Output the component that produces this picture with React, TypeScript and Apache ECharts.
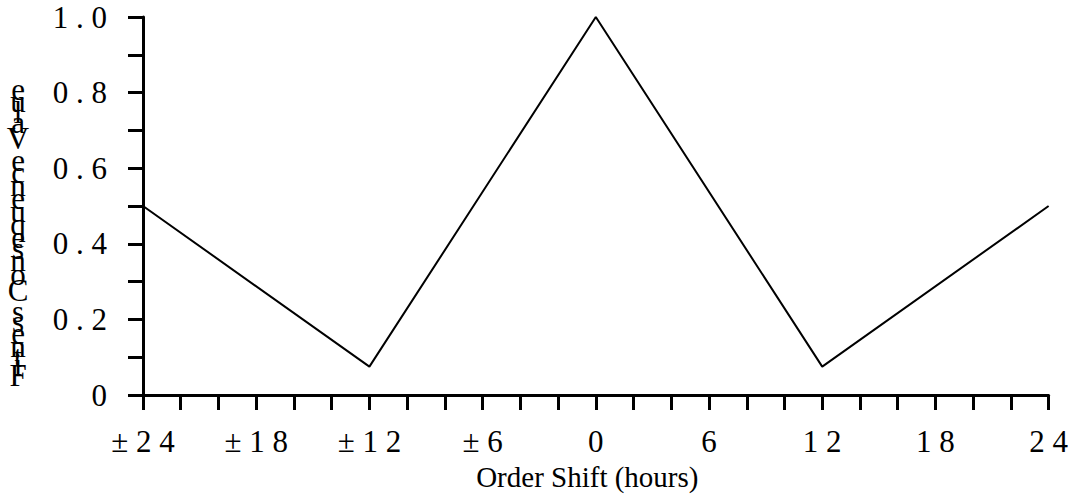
import React, { useEffect, useRef } from "react";
import * as echarts from "echarts";

const shiftHours = [-24, -12, 0, 12, 24];
const consequence = [0.5, 0.075, 1.0, 0.075, 0.5];
const xTitle = "Order Shift (hours)";
const yTitle = "Fitness Consequence Value";

const FONT = "'Liberation Serif', 'Times New Roman', serif";

function spaced(s: string): string {
  return s.split("").join(" ");
}

export default function App() {
  const ref = useRef<HTMLDivElement>(null);
  useEffect(() => {
    if (!ref.current) return;
    const chart = echarts.init(ref.current, undefined, { renderer: "svg" });

    // stacked upright y title, characters advancing upward by their widths
    const ySize = 31;
    const canvas = document.createElement("canvas");
    const ctx = canvas.getContext("2d")!;
    ctx.font = `${ySize}px 'Liberation Serif'`;
    const chars = yTitle.split("");
    const widths = chars.map((c) => ctx.measureText(c).width);
    const total = widths.reduce((a, b) => a + b, 0);
    const span = 300;
    const k = span / total;
    let pos = 383;
    const children: any[] = [];
    chars.forEach((c, i) => {
      const w = widths[i] * k;
      const center = pos - w / 2;
      pos -= w;
      if (c !== " ") {
        children.push({
          type: "text",
          x: 18,
          y: center,
          style: {
            text: c,
            fontFamily: FONT,
            fontSize: ySize,
            fill: "#000",
            align: "center",
            verticalAlign: "middle",
          },
        });
      }
    });

    chart.setOption({
      animation: false,
      backgroundColor: "#fff",
      grid: { left: 143, right: 21, top: 17, bottom: 101, containLabel: false },
      xAxis: {
        type: "value",
        min: -24,
        max: 24,
        interval: 2,
        name: xTitle,
        nameLocation: "middle",
        nameGap: 67,
        nameTextStyle: {
          fontFamily: FONT,
          fontSize: 29,
          color: "#000",
          padding: [0, 17, 0, 0],
        },
        axisLine: { show: true, onZero: false, lineStyle: { color: "#000", width: 3 } },
        axisTick: { show: true, length: 15, lineStyle: { color: "#000", width: 3 } },
        splitLine: { show: false },
        axisLabel: {
          margin: 31,
          fontFamily: FONT,
          fontSize: 31,
          color: "#000",
          formatter: (v: number) => {
            if (Math.round(v) % 6 !== 0) return "";
            if (v < 0) return "± " + spaced(String(-v));
            return spaced(String(v));
          },
        },
      },
      yAxis: {
        type: "value",
        min: 0,
        max: 1,
        interval: 0.1,
        axisLine: { show: true, onZero: false, lineStyle: { color: "#000", width: 3 } },
        axisTick: { show: true, length: 15, lineStyle: { color: "#000", width: 3 } },
        splitLine: { show: false },
        axisLabel: {
          margin: 36,
          fontFamily: FONT,
          fontSize: 31,
          color: "#000",
          formatter: (v: number) => {
            const k = Math.round(v * 10);
            if (k % 2 !== 0) return "";
            if (k === 0) return "0";
            return spaced((k / 10).toFixed(1));
          },
        },
      },
      graphic: [{ type: "group", children }],
      series: [
        {
          type: "line",
          data: shiftHours.map((h, i) => [h, consequence[i]]),
          symbol: "none",
          lineStyle: { color: "#000", width: 2 },
        },
      ],
    });
    return () => chart.dispose();
  }, []);
  return (
    <div
      ref={ref}
      style={{ position: "fixed", left: 0, top: 0, width: 1071, height: 496, background: "#fff" }}
    />
  );
}
